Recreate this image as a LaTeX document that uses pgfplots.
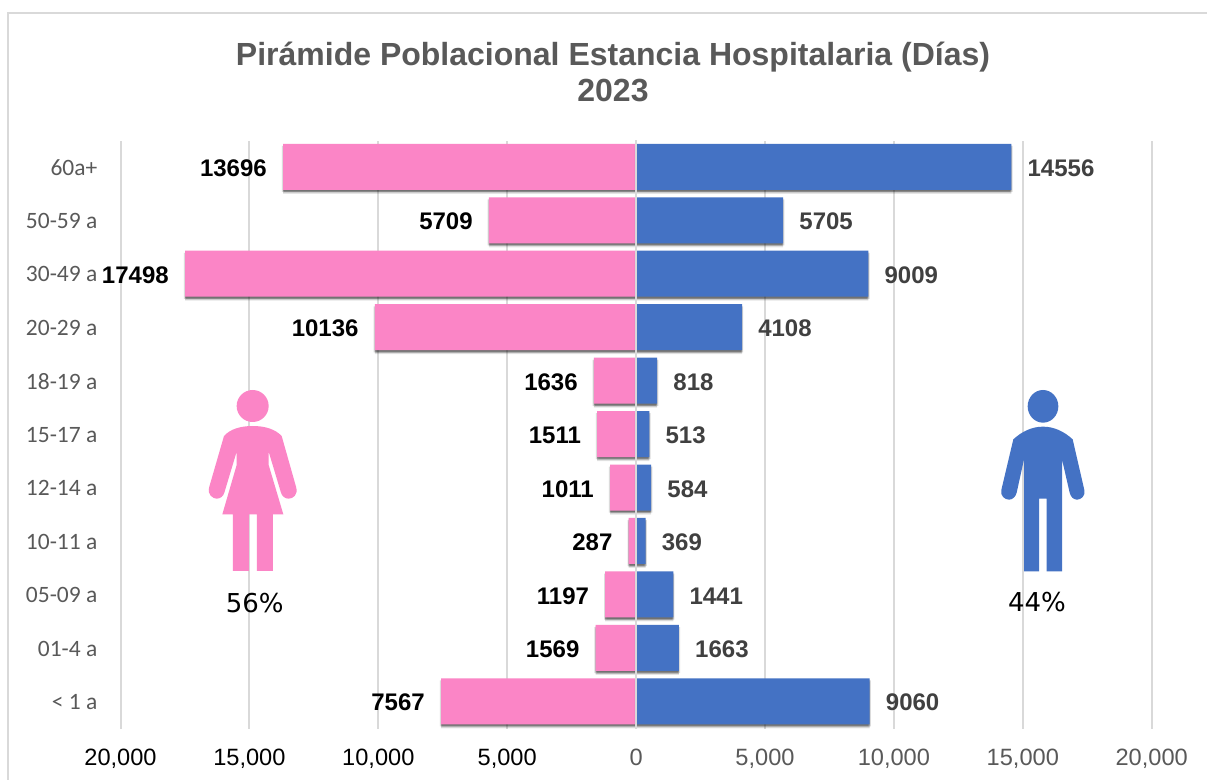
\documentclass[border=0pt]{standalone}
\usepackage{fontspec}
\setmainfont{Liberation Sans}
\newfontfamily\carlito{Carlito}
\newfontfamily\dejavu{DejaVu Sans}
\usepackage{pgfplots}
\pgfplotsset{compat=1.18}
\usetikzlibrary{shadows}
\definecolor{pinkbar}{HTML}{FB85C6}
\definecolor{bluebar}{HTML}{4472C4}
\definecolor{gridc}{HTML}{D9D9D9}
\definecolor{txtg}{HTML}{595959}
\definecolor{lblg}{HTML}{404040}
\tikzset{softshadow/.style={
  drop shadow={shadow xshift=0pt,shadow yshift=-3pt,opacity=0.10,fill=black},
  drop shadow={shadow xshift=-0.9pt,shadow yshift=-1.6pt,opacity=0.14,fill=black},
  drop shadow={shadow xshift=0.9pt,shadow yshift=-1.6pt,opacity=0.14,fill=black},
  drop shadow={shadow xshift=0pt,shadow yshift=-2.2pt,opacity=0.16,fill=black},
  drop shadow={shadow xshift=0pt,shadow yshift=-1pt,opacity=0.18,fill=black}}}
\begin{document}
\begin{tikzpicture}[x=0.75pt,y=-0.75pt]
\path[use as bounding box] (0,0) rectangle (1207,780);
\fill[white] (0,0) rectangle (1207,780);
\draw[gridc,line width=1.5pt] (8,780) -- (8,13) -- (1207,13);
\node[align=center,font=\bfseries\fontsize{24}{26.5}\selectfont,text=txtg] at (613,72) {Pirámide Poblacional Estancia Hospitalaria (Días)\\2023};
\begin{axis}[
  at={(90.375pt,-546.56pt)},anchor=south west,
  scale only axis,width=773.4pt,height=441pt,
  xmin=-20000,xmax=20000,ymin=-0.5,ymax=10.5,
  axis line style={draw=none},
  major tick length=0pt,
  clip=false,
  xmajorgrids,
  major grid style={gridc,line width=1.5pt},
  xtick={-20000,-15000,-10000,-5000,0,5000,10000,15000,20000},
  xticklabels={{\textcolor{black}{20,000}},{\textcolor{black}{15,000}},{\textcolor{black}{10,000}},{\textcolor{black}{5,000}},{0},{5,000},{10,000},{15,000},{20,000}},
  xticklabel style={font=\fontsize{17.7}{20}\selectfont,text=txtg,anchor=north,inner sep=0pt,yshift=-15pt},
  ytick={0,1,2,3,4,5,6,7,8,9,10},
  yticklabels={< 1 a,01-4 a,05-09 a,10-11 a,12-14 a,15-17 a,18-19 a,20-29 a,30-49 a,50-59 a,60a+},
  yticklabel style={font=\carlito\fontsize{17.6}{20}\selectfont,text=txtg,anchor=east,inner sep=0pt,xshift=-17.2pt},
  xbar,bar width=34.5pt,bar shift=0.5pt,
  point meta=explicit symbolic,
  nodes near coords,
]
\addplot[draw=none,fill=pinkbar,
  /tikz/softshadow,
  every node near coord/.style={anchor=east,inner sep=0pt,xshift=-12pt,yshift=-0.5pt,text=black,font=\bfseries\fontsize{18}{20}\selectfont}]
coordinates {
(-7567,0)[7567] (-1569,1)[1569] (-1197,2)[1197] (-287,3)[287] (-1011,4)[1011]
(-1511,5)[1511] (-1636,6)[1636] (-10136,7)[10136] (-17498,8)[17498] (-5709,9)[5709] (-13696,10)[13696]};
\addplot[draw=none,fill=bluebar,
  /tikz/softshadow,
  every node near coord/.style={anchor=west,inner sep=0pt,xshift=12pt,yshift=-0.5pt,text=lblg,font=\bfseries\fontsize{18}{20}\selectfont}]
coordinates {
(9060,0)[9060] (1663,1)[1663] (1441,2)[1441] (369,3)[369] (584,4)[584]
(513,5)[513] (818,6)[818] (4108,7)[4108] (9009,8)[9009] (5705,9)[5705] (14556,10)[14556]};
\end{axis}
\draw[gridc,line width=1.5pt] (636,140.25) -- (636,728.75);
% woman icon
\begin{scope}[shift={(0,370)},xscale=1/3,yscale=1/3]
\fill[pinkbar] (758,108) ellipse [x radius=48,y radius=48];
\fill[pinkbar] (758,168) .. controls (720,168) and (690,178) .. (672,198)
 -- (628,350) .. controls (620,375) and (640,386) .. (650,386) .. controls (662,386) and (670,378) .. (673,368)
 -- (710,245) -- (710,285) -- (667,433) -- (699,433) -- (699,603) -- (747,603) -- (747,433) -- (771,433) -- (771,603) -- (819,603) -- (819,433) -- (850,433) -- (806,285) -- (806,245)
 -- (843,368) .. controls (846,378) and (854,386) .. (866,386) .. controls (878,386) and (896,375) .. (888,350)
 -- (845,198) .. controls (826,178) and (796,168) .. (758,168) -- cycle;
\end{scope}
% man icon
\begin{scope}[shift={(900,370)},xscale=1/3,yscale=1/3]
\fill[bluebar] (429,109) ellipse [x radius=46,y radius=49];
\fill[bluebar] (429,170) .. controls (395,170) and (365,185) .. (340,208)
 -- (304,360) .. controls (300,378) and (315,389) .. (327,389) .. controls (338,389) and (347,380) .. (350,368)
 -- (372,268) -- (372,604) -- (417,604) -- (417,386) -- (440,386) -- (440,604) -- (486,604) -- (486,268)
 -- (509,368) .. controls (512,380) and (520,389) .. (531,389) .. controls (543,389) and (557,378) .. (553,360)
 -- (518,208) .. controls (493,185) and (463,170) .. (429,170) -- cycle;
\end{scope}
\node[font=\dejavu\fontsize{19.5}{22}\selectfont,text=black,inner sep=0pt] at (254.7,603) {56\%};
\node[font=\dejavu\fontsize{19.5}{22}\selectfont,text=black,inner sep=0pt] at (1037,602) {44\%};
\end{tikzpicture}
\end{document}
